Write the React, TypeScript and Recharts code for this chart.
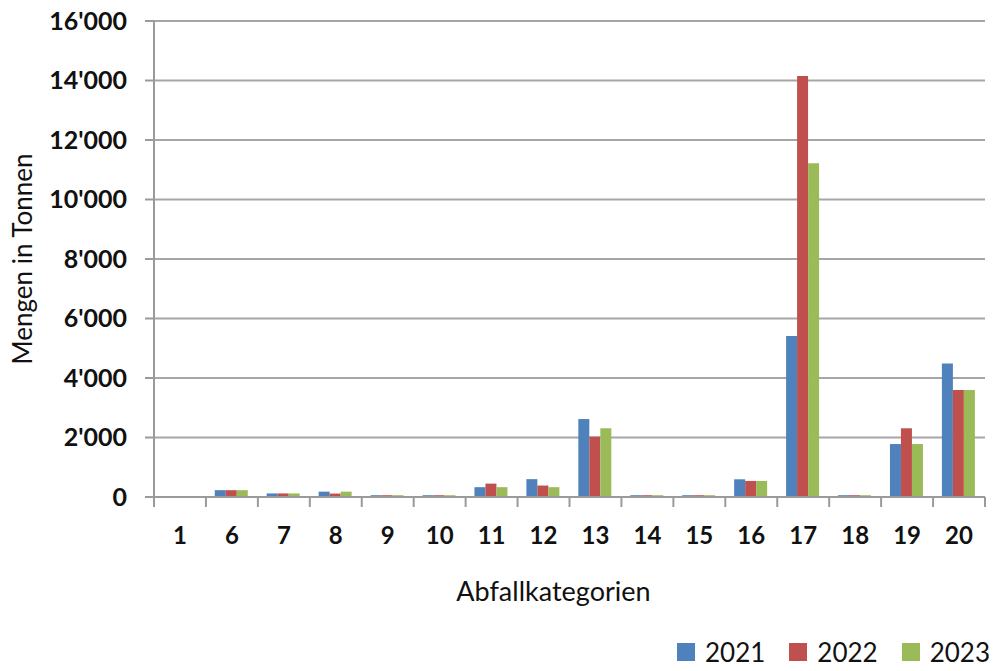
import { Bar, BarChart, CartesianGrid, Legend, XAxis, YAxis } from "recharts";

const categories = ["1", "6", "7", "8", "9", "10", "11", "12", "13", "14", "15", "16", "17", "18", "19", "20"];
const v2021 = [0, 230, 120, 180, 60, 60, 330, 600, 2620, 60, 60, 595, 5410, 60, 1780, 4490];
const v2022 = [0, 230, 120, 115, 60, 60, 450, 385, 2030, 60, 60, 540, 14150, 60, 2310, 3600];
const v2023 = [0, 230, 120, 180, 60, 60, 330, 330, 2310, 60, 60, 540, 11220, 60, 1780, 3600];
const yTicks = [0, 2000, 4000, 6000, 8000, 10000, 12000, 14000, 16000];

const SERIES = [
  { key: "y2021", name: "2021", color: "#4F81BD" },
  { key: "y2022", name: "2022", color: "#C0504D" },
  { key: "y2023", name: "2023", color: "#9BBB59" },
];

const data = categories.map((cat, i) => ({
  cat,
  y2021: v2021[i],
  y2022: v2022[i],
  y2023: v2023[i],
}));

const FONT = "Lato, 'Liberation Sans', sans-serif";
const AXIS = "#9a9a9a";

const fmt = (v: number) => String(v).replace(/\B(?=(\d{3})+(?!\d))/g, "'");

// tick marks sit on the category boundaries, labels in the middle
function XTick(props: any) {
  const { x, y, payload, index, visibleTicksCount } = props;
  const half = 831 / categories.length / 2;
  const top = y - 8;
  const last = index === (visibleTicksCount ?? categories.length) - 1;
  return (
    <g>
      <line x1={x - half} x2={x - half} y1={top} y2={top + 10} stroke={AXIS} strokeWidth={2} />
      {last && <line x1={x + half} x2={x + half} y1={top} y2={top + 10} stroke={AXIS} strokeWidth={2} />}
      <text x={x} y={top + 47} textAnchor="middle" fontSize={24} fontWeight="bold" fill="#111" fontFamily={FONT}>
        {payload.value}
      </text>
    </g>
  );
}

function XLabel(props: any) {
  const vb = props.viewBox;
  return (
    <text x={vb.x + vb.width / 2 - 16} y={vb.y + 104} textAnchor="middle" fontSize={27} fill="#111" fontFamily={FONT}>
      Abfallkategorien
    </text>
  );
}

function YLabel(props: any) {
  const vb = props.viewBox;
  const cy = vb.y + vb.height / 2;
  return (
    <text
      x={14}
      y={cy}
      transform={`rotate(-90, 14, ${cy})`}
      textAnchor="middle"
      dominantBaseline="central"
      fontSize={26}
      fill="#111"
      fontFamily={FONT}
    >
      Mengen in Tonnen
    </text>
  );
}

function LegendBox() {
  return (
    <div style={{ display: "flex", alignItems: "center", fontFamily: FONT, fontSize: 26, color: "#111", lineHeight: 1 }}>
      {SERIES.map((s, i) => (
        <div key={s.key} style={{ display: "flex", alignItems: "center", marginRight: i < 2 ? 24 : 0 }}>
          <span style={{ width: 18, height: 18, background: s.color, display: "inline-block", marginRight: 10 }} />
          <span>{s.name}</span>
        </div>
      ))}
    </div>
  );
}

export default function App() {
  return (
    <div style={{ position: "relative", width: 981, height: 663 }}>
      <BarChart
        width={981}
        height={663}
        data={data}
        margin={{ top: 13, right: 4, left: 0, bottom: 8 }}
        barCategoryGap="17%"
        barGap={0}
      >
        <CartesianGrid vertical={false} stroke="#a6a6a6" strokeWidth={2} />
        <XAxis
          dataKey="cat"
          height={166}
          tickLine={false}
          axisLine={{ stroke: AXIS, strokeWidth: 2 }}
          tick={<XTick />}
          interval={0}
          label={<XLabel />}
        />
        <YAxis
          width={146}
          domain={[0, 16000]}
          ticks={yTicks}
          interval={0}
          tickFormatter={fmt}
          tickSize={9}
          tickMargin={18}
          tickLine={{ stroke: AXIS, strokeWidth: 2 }}
          axisLine={{ stroke: AXIS, strokeWidth: 2 }}
          tick={{ fontSize: 25, fontWeight: "bold", fill: "#111", fontFamily: FONT }}
          label={<YLabel />}
        />
        <Legend
          layout="horizontal"
          verticalAlign="middle"
          align="center"
          content={<LegendBox />}
          wrapperStyle={{ top: 631, left: 669, width: "auto", height: "auto" }}
        />
        {SERIES.map((s) => (
          <Bar key={s.key} dataKey={s.key} name={s.name} fill={s.color} isAnimationActive={false} />
        ))}
      </BarChart>
    </div>
  );
}
